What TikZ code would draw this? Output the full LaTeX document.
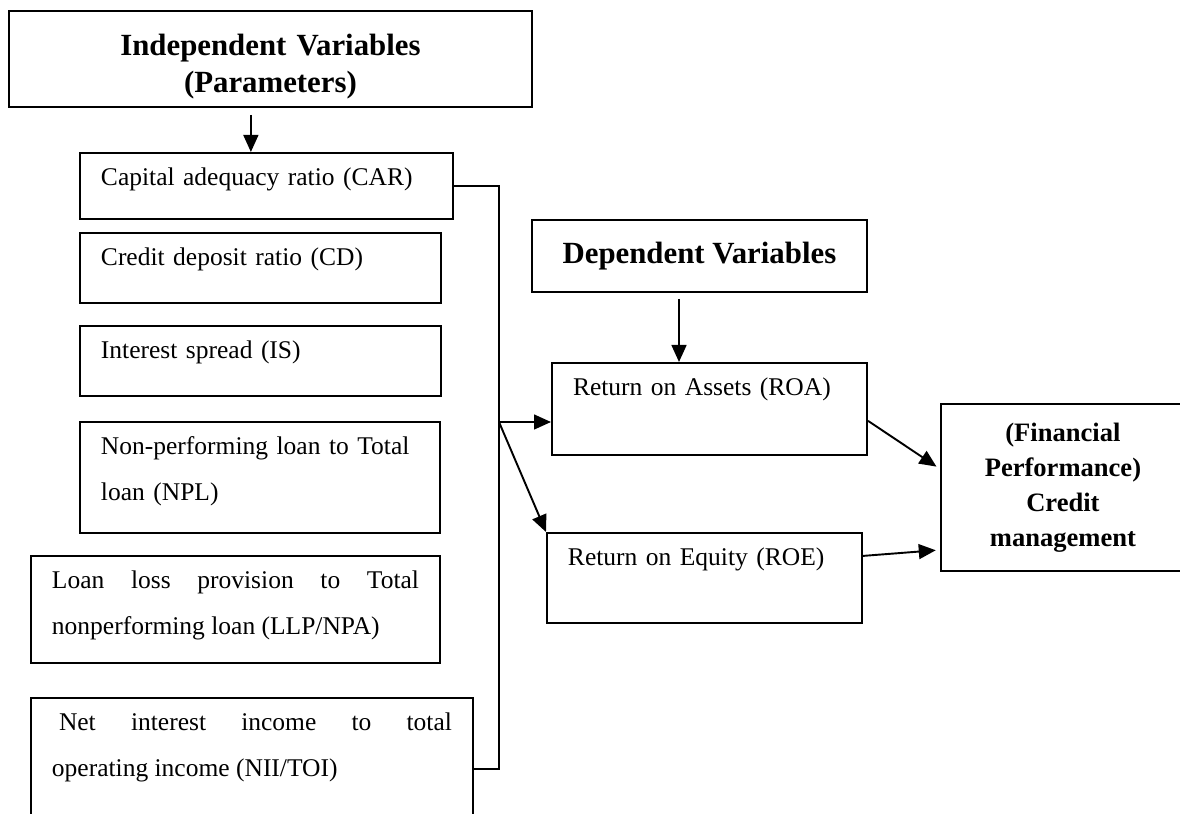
\documentclass[tikz,border=0pt]{standalone}
\usepackage{fontspec}
\setmainfont{Liberation Serif}
\usetikzlibrary{arrows.meta}

\begin{document}
\begin{tikzpicture}[x=0.4706pt, y=-0.4706pt,
  varbox/.style={draw, line width=0.9pt, anchor=north west, align=left,
    font=\fontsize{12}{21.6}\selectfont, inner xsep=9.9pt, inner ysep=5.5pt,
    text height=10pt},
  headbox/.style={draw, line width=0.9pt, anchor=north west, align=center,
    font=\bfseries\fontsize{14.5}{17.4}\selectfont, inner sep=2pt},
  link/.style={line width=0.9pt},
  arr/.style={link, -{Triangle[length=8pt, width=7pt]}}]
  \useasboundingbox (0,0) rectangle (1180,814);

  \node[headbox, inner xsep=4pt, inner ysep=4pt, text width=238.1pt,
    text height=17.2pt, text depth=20pt] (indep) at (8,10)
    {Independent Variables\\(Parameters)};
  \node[varbox, text width=155.7pt, text depth=10.1pt] (car) at (79,152)
    {Capital adequacy ratio (CAR)};
  \node[varbox, text width=150.1pt, text depth=11.9pt] (cdr) at (79,232)
    {Credit deposit ratio (CD)};
  \node[varbox, text width=150.1pt, text depth=11.9pt] (isp) at (79,325)
    {Interest spread (IS)};
  \node[varbox, text width=149.6pt, text depth=31.2pt] (npl) at (79,421)
    {Non-performing loan to Total\\loan (NPL)};
  \node[varbox, align=justify, text width=172.7pt, text depth=29.4pt] (llp) at (30,555)
    {Loan loss provision to Total\linebreak nonperforming loan (LLP/NPA)};
  \node[varbox, align=justify, text width=188.2pt, text depth=45pt] (nii) at (30,697)
    {\hspace*{3.3pt}Net interest income to total\linebreak operating income (NII/TOI)};

  \node[headbox, minimum width=157.6pt, minimum height=33.9pt] (dep) at (531,219)
    {Dependent Variables};
  \node[varbox, text width=128.5pt, text depth=22.3pt] (roa) at (551,362)
    {Return on Assets (ROA)};
  \node[varbox, text width=128.5pt, text depth=21.4pt] (roe) at (546,532)
    {Return on Equity (ROE)};
  \node[headbox, font=\bfseries\fontsize{12.5}{16.5}\selectfont,
    minimum width=114.8pt, minimum height=78.6pt] (fin) at (940,403)
    {(Financial\\Performance)\\Credit\\management};

  \coordinate (fork) at (499,422);
  \coordinate (niiport) at (nii.north east |- 0,769);
  \coordinate (indepout) at ([xshift=-9.2pt]indep.south);
  \coordinate (depout) at ([xshift=-9.6pt]dep.south);

  \draw[arr] ([yshift=-3.3pt]indepout) -- (indepout |- car.north);
  \draw[arr] ([yshift=-2.8pt]depout) -- (depout |- roa.north);
  \draw[link] (car.east) -| (fork) |- (niiport);
  \draw[arr] (fork) -- (roa.west |- fork);
  \draw[arr] (fork) -- (roe.north west);
  \draw[arr, shorten >=2pt] ([yshift=-5.6pt]roa.east) -- ([yshift=8.7pt]fin.west);
  \draw[arr, shorten >=2pt] ([yshift=10.4pt]roe.east) -- ([yshift=-29.4pt]fin.west);
\end{tikzpicture}
\end{document}
